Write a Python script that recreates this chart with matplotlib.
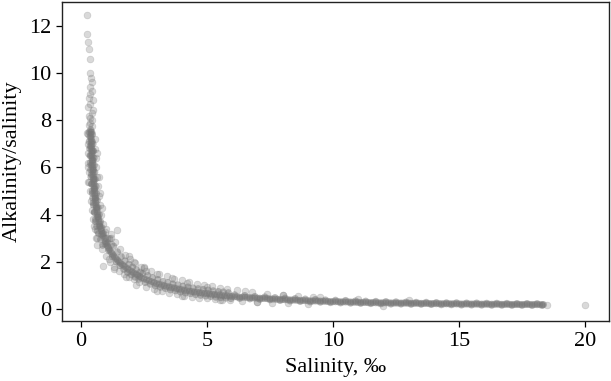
import matplotlib
matplotlib.use("Agg")
import matplotlib.pyplot as plt

# ---- data (salinity, alkalinity/salinity) ----
# long tail, centre of band
tail_sal = [6.0, 6.2, 6.4, 6.6, 6.8, 7.0, 7.2, 7.4, 7.6, 7.8, 8.0, 8.2, 8.4, 8.6, 8.8, 9.0,
            9.2, 9.4, 9.6, 9.8, 10.0, 10.2, 10.4, 10.6, 10.8, 11.0, 11.2, 11.4, 11.6, 11.8,
            12.0, 12.2, 12.4, 12.6, 12.8, 13.0, 13.2, 13.4, 13.6, 13.8, 14.0, 14.2, 14.4,
            14.6, 14.8, 15.0, 15.2, 15.4, 15.6, 15.8, 16.0, 16.2, 16.4, 16.6, 16.8, 17.0,
            17.2, 17.4, 17.6, 17.8, 18.0, 18.2, 18.35]
tail_ratio = [0.53, 0.51, 0.50, 0.49, 0.47, 0.46, 0.45, 0.44, 0.42, 0.41, 0.40, 0.39, 0.38,
              0.37, 0.36, 0.35, 0.34, 0.34, 0.33, 0.32, 0.31, 0.31, 0.30, 0.30, 0.29, 0.28,
              0.28, 0.27, 0.27, 0.26, 0.26, 0.26, 0.25, 0.25, 0.25, 0.245, 0.24, 0.24, 0.235,
              0.23, 0.23, 0.225, 0.22, 0.22, 0.22, 0.215, 0.21, 0.21, 0.21, 0.205, 0.205,
              0.20, 0.20, 0.20, 0.195, 0.195, 0.19, 0.19, 0.19, 0.19, 0.19, 0.185, 0.185]
tail_fill_sal = [6.1, 6.3, 6.5, 6.7, 6.9, 7.1, 7.3, 7.5, 7.7, 7.9, 8.1, 8.3, 8.5, 8.7, 8.9,
                 9.1, 9.3, 9.5, 9.7, 9.9, 10.1, 10.3, 10.5, 10.7, 10.9, 11.1, 11.3, 11.5, 11.7,
                 11.9, 12.1, 12.3, 12.5, 12.7, 12.9, 13.1, 13.3, 13.5, 13.7, 13.9, 14.1, 14.3,
                 14.5, 14.7, 14.9, 15.1, 15.3, 15.5, 15.7, 15.9, 16.1, 16.3, 16.5, 16.7, 16.9,
                 17.1, 17.3, 17.5, 17.7, 17.9, 18.1, 18.3]
tail_fill_ratio = [0.52, 0.50, 0.495, 0.48, 0.465, 0.455, 0.445, 0.43, 0.415, 0.405, 0.395,
                   0.385, 0.375, 0.365, 0.355, 0.345, 0.34, 0.335, 0.325, 0.315, 0.31, 0.305,
                   0.30, 0.295, 0.285, 0.28, 0.275, 0.27, 0.265, 0.26, 0.26, 0.255, 0.25, 0.25,
                   0.245, 0.24, 0.24, 0.235, 0.235, 0.23, 0.225, 0.225, 0.22, 0.22, 0.215, 0.21,
                   0.21, 0.21, 0.205, 0.205, 0.20, 0.20, 0.20, 0.195, 0.195, 0.19, 0.19, 0.19,
                   0.19, 0.19, 0.185, 0.185]
tail_up_sal = [6.1, 6.5, 6.9, 7.3, 7.7, 8.1, 8.5, 8.9, 9.3, 9.7, 10.1, 10.5, 10.9, 11.3, 11.7,
               12.1, 12.5, 12.9, 13.3, 13.7, 14.1, 14.5, 14.9, 15.3, 15.7, 16.1, 16.5, 16.9,
               17.3, 17.7, 18.1]
tail_up_ratio = [0.60, 0.57, 0.53, 0.51, 0.48, 0.46, 0.44, 0.42, 0.40, 0.38, 0.37, 0.36, 0.34,
                 0.33, 0.32, 0.31, 0.30, 0.29, 0.28, 0.28, 0.27, 0.26, 0.26, 0.25, 0.25, 0.24,
                 0.24, 0.235, 0.23, 0.23, 0.225]
tail_lo_sal = [6.3, 6.7, 7.1, 7.5, 7.9, 8.3, 8.7, 9.1, 9.5, 9.9, 10.3, 10.7, 11.1, 11.5, 11.9,
               12.3, 12.7, 13.1, 13.5, 13.9, 14.3, 14.7, 15.1, 15.5, 15.9, 16.3, 16.7, 17.1,
               17.5, 17.9, 18.3]
tail_lo_ratio = [0.45, 0.43, 0.41, 0.39, 0.36, 0.34, 0.32, 0.30, 0.29, 0.27, 0.26, 0.25, 0.24,
                 0.23, 0.22, 0.21, 0.21, 0.20, 0.20, 0.19, 0.18, 0.18, 0.17, 0.17, 0.165, 0.16,
                 0.16, 0.155, 0.155, 0.15, 0.15]

# middle part of the band
mid_sal = [2.4, 2.5, 2.6, 2.7, 2.8, 2.9, 3.0, 3.1, 3.2, 3.3, 3.4, 3.5, 3.6, 3.7, 3.8, 3.9, 4.0,
           4.1, 4.2, 4.3, 4.4, 4.5, 4.6, 4.7, 4.8, 4.9, 5.0, 5.1, 5.2, 5.3, 5.4, 5.5, 5.6, 5.7,
           5.8, 5.9]
mid_ratio = [1.32, 1.28, 1.24, 1.20, 1.16, 1.12, 1.08, 1.05, 1.02, 0.99, 0.96, 0.93, 0.91, 0.89,
             0.86, 0.84, 0.82, 0.80, 0.78, 0.76, 0.74, 0.72, 0.71, 0.69, 0.68, 0.66, 0.65, 0.64,
             0.62, 0.61, 0.60, 0.59, 0.57, 0.56, 0.55, 0.54]
mid_up_sal = [2.45, 2.65, 2.85, 3.05, 3.25, 3.45, 3.65, 3.85, 4.05, 4.25, 4.45, 4.65, 4.85,
              5.05, 5.25, 5.45, 5.65, 5.85]
mid_up_ratio = [1.50, 1.42, 1.33, 1.25, 1.17, 1.12, 1.06, 1.02, 0.97, 0.93, 0.89, 0.86, 0.83,
                0.80, 0.77, 0.74, 0.72, 0.69]
mid_lo_sal = [2.55, 2.75, 2.95, 3.15, 3.35, 3.55, 3.75, 3.95, 4.15, 4.35, 4.55, 4.75, 4.95,
              5.15, 5.35, 5.55, 5.75, 5.95]
mid_lo_ratio = [1.12, 1.05, 0.98, 0.92, 0.87, 0.81, 0.77, 0.72, 0.68, 0.65, 0.61, 0.58, 0.55,
                0.53, 0.50, 0.48, 0.46, 0.44]
mid_halo_up_sal = [2.5, 2.8, 3.1, 3.4, 3.7, 4.0, 4.3, 4.6, 4.9, 5.2, 5.5, 5.8, 6.2, 6.8, 7.4,
                   8.0, 8.6, 9.2]
mid_halo_up_ratio = [1.72, 1.60, 1.48, 1.38, 1.29, 1.21, 1.13, 1.06, 1.01, 0.96, 0.91, 0.86,
                     0.79, 0.70, 0.64, 0.58, 0.53, 0.49]
mid_halo_lo_sal = [2.6, 2.9, 3.2, 3.5, 3.8, 4.1, 4.4, 4.7, 5.0, 5.3, 5.6, 5.9, 6.4, 7.0, 7.6,
                   8.2]
mid_halo_lo_ratio = [0.95, 0.85, 0.77, 0.69, 0.63, 0.57, 0.52, 0.48, 0.45, 0.42, 0.39, 0.36,
                     0.33, 0.30, 0.27, 0.25]

# bend of the curve
bend_sal = [0.97, 1.01, 1.05, 1.09, 1.13, 1.18, 1.23, 1.28, 1.33, 1.39, 1.45, 1.51, 1.57, 1.64,
            1.71, 1.78, 1.86, 1.94, 2.02, 2.10, 2.18, 2.26, 2.34]
bend_ratio = [2.85, 2.76, 2.68, 2.60, 2.52, 2.44, 2.36, 2.28, 2.21, 2.14, 2.07, 2.00, 1.94, 1.88,
              1.82, 1.76, 1.70, 1.64, 1.58, 1.53, 1.48, 1.43, 1.38]
bend_out_sal = [1.15, 1.30, 1.45, 1.60, 1.75, 1.90, 2.05, 2.20, 2.35]
bend_out_ratio = [2.98, 2.66, 2.42, 2.22, 2.04, 1.90, 1.78, 1.66, 1.56]
bend_in_sal = [0.95, 1.10, 1.25, 1.40, 1.55, 1.70, 1.85, 2.00, 2.15, 2.30]
bend_in_ratio = [2.75, 2.48, 2.22, 2.00, 1.84, 1.68, 1.55, 1.45, 1.35, 1.26]
bend_halo_sal = [1.20, 1.35, 1.55, 1.75, 1.95, 2.15, 2.40, 0.85, 1.00, 1.15, 1.30, 1.50, 1.70,
                 1.90, 2.10, 2.30]
bend_halo_ratio = [3.20, 2.85, 2.55, 2.30, 2.10, 1.95, 1.80, 2.55, 2.25, 2.00, 1.80, 1.62, 1.48,
                   1.36, 1.25, 1.15]

# nearly vertical part at low salinity
vert_ratio = [7.6, 7.5, 7.4, 7.3, 7.2, 7.1, 7.0, 6.9, 6.8, 6.7, 6.6, 6.5, 6.4, 6.3, 6.2, 6.1,
              6.0, 5.9, 5.8, 5.7, 5.6, 5.5, 5.4, 5.3, 5.2, 5.1, 5.0, 4.9, 4.8, 4.7, 4.6, 4.5,
              4.4, 4.3, 4.2, 4.1, 4.0, 3.9, 3.8, 3.7, 3.6, 3.5, 3.4, 3.3, 3.2, 3.1, 3.0]
vert_sal = [0.39, 0.39, 0.40, 0.40, 0.41, 0.41, 0.42, 0.42, 0.43, 0.43, 0.44, 0.44, 0.45, 0.45,
            0.46, 0.46, 0.47, 0.47, 0.48, 0.49, 0.49, 0.50, 0.51, 0.52, 0.52, 0.53, 0.54, 0.55,
            0.56, 0.57, 0.58, 0.59, 0.60, 0.62, 0.63, 0.65, 0.66, 0.68, 0.70, 0.72, 0.74, 0.76,
            0.79, 0.82, 0.85, 0.88, 0.92]
vert_left_sal = [0.32, 0.33, 0.35, 0.36, 0.37, 0.39, 0.40, 0.42, 0.45, 0.47, 0.50, 0.54, 0.58,
                 0.63, 0.70, 0.78, 0.86]
vert_left_ratio = [7.5, 7.1, 6.8, 6.5, 6.2, 5.9, 5.6, 5.3, 5.0, 4.7, 4.4, 4.1, 3.8, 3.5, 3.2,
                   2.95, 2.7]
vert_right_sal = [0.46, 0.48, 0.50, 0.52, 0.53, 0.55, 0.57, 0.60, 0.62, 0.65, 0.68, 0.73, 0.78,
                  0.83, 0.90, 0.98, 1.08]
vert_right_ratio = [7.4, 7.0, 6.7, 6.4, 6.1, 5.8, 5.5, 5.2, 4.9, 4.6, 4.3, 4.0, 3.7, 3.45, 3.2,
                    3.0, 2.8]
vert_fill_sal = [0.36, 0.37, 0.39, 0.40, 0.42, 0.44, 0.46, 0.49, 0.53, 0.58, 0.65, 0.43, 0.45,
                 0.47, 0.48, 0.50, 0.52, 0.55, 0.58, 0.62, 0.67, 0.74, 0.82]
vert_fill_ratio = [7.3, 6.9, 6.5, 6.1, 5.7, 5.3, 4.9, 4.5, 4.1, 3.7, 3.3, 7.5, 7.1, 6.7, 6.3,
                   5.9, 5.5, 5.1, 4.7, 4.3, 3.9, 3.5, 3.15]
vert_halo_sal = [0.27, 0.28, 0.29, 0.30, 0.32, 0.34, 0.36, 0.39, 0.43, 0.48, 0.54, 0.62, 0.55,
                 0.57, 0.59, 0.61, 0.63, 0.66, 0.70, 0.74, 0.79, 0.86, 0.95, 1.05, 1.18]
vert_halo_ratio = [7.4, 7.0, 6.6, 6.2, 5.8, 5.4, 5.0, 4.6, 4.2, 3.8, 3.4, 3.0, 7.2, 6.8, 6.4,
                   6.0, 5.6, 5.2, 4.8, 4.4, 4.0, 3.6, 3.25, 3.0, 2.75]

# sparse points at the top
top_sal = [0.25, 0.25, 0.29, 0.33, 0.38, 0.36, 0.42, 0.42, 0.46, 0.29, 0.46, 0.42, 0.25, 0.36,
           0.33, 0.38, 0.40, 0.35, 0.38, 0.34, 0.44, 0.37, 0.31, 0.43]
top_ratio = [12.47, 11.65, 11.34, 11.03, 10.59, 10.0, 9.64, 9.25, 8.86, 8.58, 8.44, 8.0, 7.45,
             9.1, 8.2, 8.7, 9.8, 7.9, 9.4, 8.95, 8.3, 8.1, 7.8, 7.75]

# scattered outliers around the band
out_sal = [1.44, 0.88, 0.62, 2.5, 3.0, 3.6, 4.2, 5.0, 6.5, 8.0, 9.5, 11.0, 13.0, 2.2, 3.0, 4.0,
           5.5, 7.0, 9.0, 12.0, 0.30, 0.28, 0.62, 0.70, 0.75, 0.85, 0.50, 0.60, 1.3, 1.8, 2.1,
           1.9, 2.6, 1.1, 1.0, 1.2, 18.5, 20.0]
out_ratio = [3.35, 1.83, 2.70, 1.80, 1.50, 1.30, 1.10, 0.95, 0.75, 0.60, 0.50, 0.42, 0.37,
             1.00, 0.78, 0.55, 0.38, 0.30, 0.20, 0.13, 6.0, 5.4, 6.6, 5.6, 4.9, 4.3, 3.5, 3.0,
             1.7, 1.35, 2.0, 2.25, 1.6, 2.1, 3.4, 3.0, 0.18, 0.17]

x_ticks = [0, 5, 10, 15, 20]
y_ticks = [0, 2, 4, 6, 8, 10, 12]

# ---- drawing ----
plt.rcParams['font.family'] = ['Liberation Serif', 'DejaVu Serif']
fig = plt.figure(figsize=(6.11, 3.81), dpi=100)
ax = fig.add_axes([0.1015, 0.1575, 0.8952, 0.8373])

pt_color = '#787878'
core_kw = dict(s=26, c=pt_color, edgecolors='none', alpha=0.5, zorder=3)
halo_kw = dict(s=24, c=pt_color, edgecolors=pt_color, linewidths=0.5, alpha=0.28, zorder=2)

for xs, ys in [(tail_sal, tail_ratio), (tail_fill_sal, tail_fill_ratio),
               (mid_sal, mid_ratio), (bend_sal, bend_ratio),
               (vert_sal, vert_ratio), (tail_up_sal, tail_up_ratio),
               (tail_lo_sal, tail_lo_ratio), (mid_up_sal, mid_up_ratio),
               (mid_lo_sal, mid_lo_ratio), (bend_out_sal, bend_out_ratio),
               (bend_in_sal, bend_in_ratio), (vert_left_sal, vert_left_ratio),
               (vert_right_sal, vert_right_ratio), (vert_fill_sal, vert_fill_ratio)]:
    ax.scatter(xs, ys, **core_kw)
for xs, ys in [(top_sal, top_ratio), (out_sal, out_ratio),
               (mid_halo_up_sal, mid_halo_up_ratio), (mid_halo_lo_sal, mid_halo_lo_ratio),
               (bend_halo_sal, bend_halo_ratio), (vert_halo_sal, vert_halo_ratio)]:
    ax.scatter(xs, ys, **halo_kw)

ax.set_xlim(-0.75, 20.95)
ax.set_ylim(-0.51, 13.02)
ax.set_xticks(x_ticks)
ax.set_yticks(y_ticks)
ax.tick_params(direction='out', length=4, width=0.9, labelsize=16, colors='black', pad=4)
for sp in ax.spines.values():
    sp.set_linewidth(1.0)
    sp.set_color('#222222')
ax.set_xlabel('Salinity, ‰', fontsize=16, labelpad=5)
ax.set_ylabel('Alkalinity/salinity', fontsize=16, labelpad=5)

fig.savefig('out.png', dpi=100)
